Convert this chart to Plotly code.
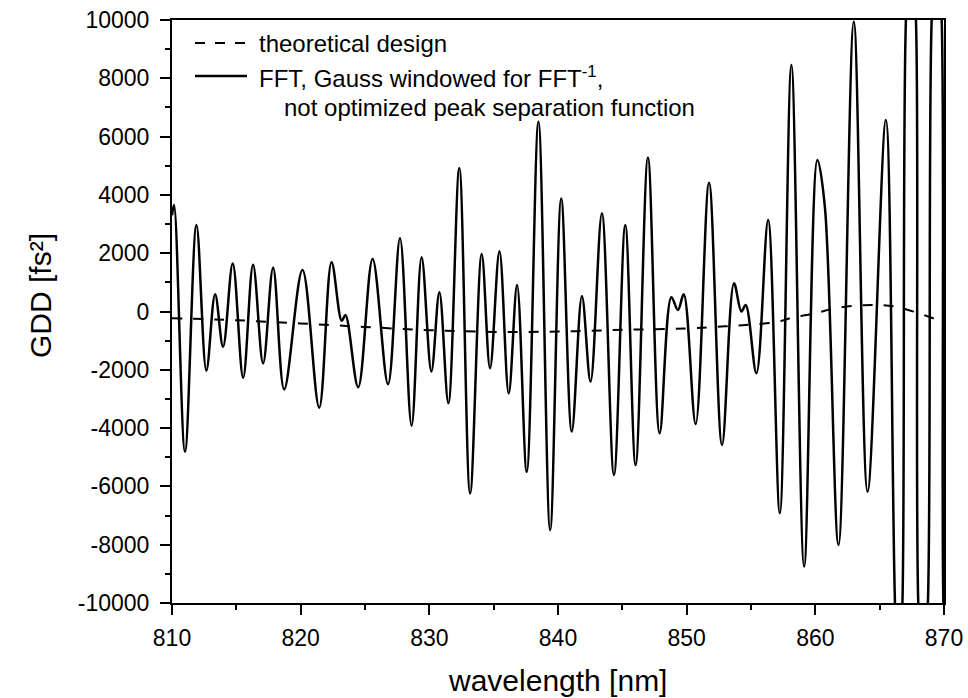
import plotly.graph_objects as go

# ---------------- data ----------------
# FFT, Gauss windowed for FFT^-1 (extrema and edge crossings, nm / fs^2)
wl_fft = [810.00, 810.16, 811.01, 811.90, 812.67, 813.35, 813.97, 814.72, 815.53, 816.30,
          817.08, 817.86, 818.72, 820.14, 821.44, 822.40, 823.19, 823.48, 824.47, 825.59,
          826.79, 827.72, 828.62, 829.40, 830.16, 830.78, 831.48, 832.33, 833.17, 834.07,
          834.72, 835.45, 836.17, 836.82, 837.57, 838.48, 839.39, 840.25, 841.07, 841.86,
          842.53, 843.41, 844.35, 845.23, 846.03, 846.99, 847.90, 848.81, 849.32, 849.77,
          850.70, 851.74, 852.75, 853.68, 854.25, 854.59, 855.42, 856.33, 857.24, 858.14,
          859.13, 860.16, 860.74, 861.80, 862.99, 864.06, 865.48, 866.19, 866.48, 866.77,
          867.04, 867.43, 867.82, 868.00, 868.38, 868.75, 869.04, 869.43, 869.82, 869.95,
          870.20]
gdd_fft = [3300, 3650, -4810, 2970, -2030, 590, -1210, 1650, -2270, 1600,
           -1780, 1500, -2670, 1420, -3300, 1690, -320, -120, -2600, 1800,
           -2490, 2510, -3920, 1860, -2060, 660, -3150, 4920, -6240, 1970,
           -1950, 2070, -2810, 910, -5500, 6510, -7500, 3880, -4120, 530,
           -2410, 3370, -5610, 2970, -5270, 5280, -4180, 490, 50, 590,
           -3860, 4420, -4580, 970, 0, 220, -2120, 3140, -6920, 8460,
           -8750, 5200, 3600, -8010, 9940, -6180, 6570, -10000, -13000, -10000,
           10000, 13000, 10000, -10000, -13000, -10000, 10000, 13000, 10000, -10000,
           -13000]

# theoretical design
wl_design = [810, 815, 820, 825, 830, 835, 840, 845, 850, 853, 855, 857, 858.3, 860,
             861.5, 863.2, 864.8, 866.3, 867.9, 869.4, 870]
gdd_design = [-230, -300, -410, -530, -640, -700, -690, -630, -580, -510, -450, -360,
              -200, -60, 110, 200, 220, 160, -40, -270, -350]

x_ticks = [810, 820, 830, 840, 850, 860, 870]
y_ticks = [-10000, -8000, -6000, -4000, -2000, 0, 2000, 4000, 6000, 8000, 10000]

legend_design = "theoretical design"
legend_fft_1 = "FFT, Gauss windowed for FFT<sup>-1</sup>,"
legend_fft_2 = "not optimized peak separation function"
x_title = "wavelength [nm]"
y_title = "GDD [fs²]"

# ---------------- layout geometry (page pixels) ----------------
W, H = 968, 698
L, R, T, B = 172, 944, 20, 603
FONT = "Liberation Sans, Arial, sans-serif"


def px(xp):
    return (xp - L) / (R - L)


def py(yp):
    return (B - yp) / (B - T)


fig = go.Figure()
fig.add_trace(go.Scatter(x=wl_design, y=gdd_design, mode="lines",
                         line=dict(color="black", width=2, dash="10px,11px", shape="spline"),
                         showlegend=False, hoverinfo="skip"))
fig.add_trace(go.Scatter(x=wl_fft, y=gdd_fft, mode="lines",
                         line=dict(color="black", width=2.5, shape="spline", smoothing=1),
                         showlegend=False, hoverinfo="skip"))

axis_common = dict(showgrid=False, zeroline=False, showline=True, linecolor="black",
                   linewidth=2, mirror=True, ticks="outside", ticklen=10, tickwidth=2,
                   tickcolor="black", tickfont=dict(family=FONT, size=23, color="black"))

fig.update_xaxes(range=[810, 870], tickvals=x_ticks, ticktext=[str(v) for v in x_ticks],
                 minor=dict(dtick=5, tick0=810, ticks="outside", ticklen=5, tickwidth=2,
                            tickcolor="black"),
                 ticklabelstandoff=3, **axis_common)
fig.update_yaxes(range=[-10000, 10000], tickvals=y_ticks, ticktext=[str(v) for v in y_ticks],
                 minor=dict(dtick=1000, tick0=0, ticks="outside", ticklen=5, tickwidth=2,
                            tickcolor="black"),
                 ticklabelstandoff=6, **axis_common)

shapes = [
    dict(type="line", xref="paper", yref="paper", x0=px(195), x1=px(247), y0=py(43), y1=py(43),
         line=dict(color="black", width=2, dash="10px,10px")),
    dict(type="line", xref="paper", yref="paper", x0=px(195), x1=px(247), y0=py(76), y1=py(76),
         line=dict(color="black", width=2.5)),
]

annotations = [
    dict(text=legend_design, x=px(257), y=py(43), xanchor="left", yanchor="middle"),
    dict(text=legend_fft_1, x=px(257), y=py(77), xanchor="left", yanchor="middle"),
    dict(text=legend_fft_2, x=px(282), y=py(108), xanchor="left", yanchor="middle"),
]
for a in annotations:
    a.update(xref="paper", yref="paper", showarrow=False,
             font=dict(family=FONT, size=24, color="black"))

annotations.append(dict(text=x_title, xref="paper", yref="paper", x=px(557), y=py(680),
                        xanchor="center", yanchor="middle", showarrow=False,
                        font=dict(family=FONT, size=30, color="black")))
annotations.append(dict(text=y_title, xref="paper", yref="paper", x=px(40), y=py(296),
                        xanchor="center", yanchor="middle", showarrow=False, textangle=-90,
                        font=dict(family=FONT, size=30, color="black")))

fig.update_layout(width=W, height=H,
                  margin=dict(l=L, r=W - R, t=T, b=H - B, autoexpand=False),
                  paper_bgcolor="white", plot_bgcolor="white",
                  shapes=shapes, annotations=annotations, showlegend=False)

fig.write_html("out.html",
               config={"displayModeBar": False},
               post_script="document.body.style.margin='0';"
                           "document.body.style.overflow='hidden';")
